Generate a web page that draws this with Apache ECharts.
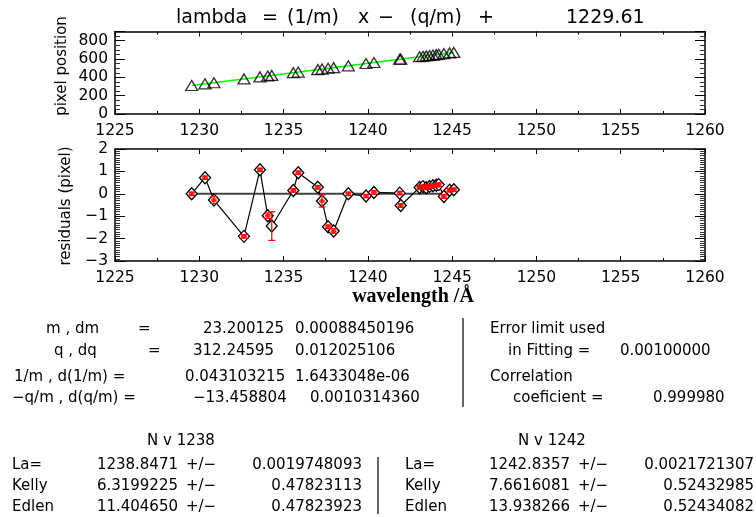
<!DOCTYPE html>
<html>
<head>
<meta charset="utf-8">
<script src="https://cdn.jsdelivr.net/npm/echarts@6/dist/echarts.min.js"></script>
<style>
  html, body { margin: 0; padding: 0; background: #fff; }
  #chart { width: 756px; height: 517px; }
</style>
</head>
<body>
<div id="chart"></div>
<script>
// Measured line positions: wavelength (Å) vs detector pixel
const wavelengths = [1229.55, 1230.34, 1230.87, 1232.65, 1233.60, 1234.06, 1234.30, 1235.58, 1235.87,
  1237.03, 1237.28, 1237.64, 1237.97, 1238.84, 1239.89, 1240.36, 1241.89, 1241.95,
  1243.07, 1243.27, 1243.46, 1243.66, 1243.86, 1244.06, 1244.20, 1244.51, 1244.85, 1245.10];
const pixelPositions = [311, 329, 341, 383, 405, 415, 421, 451, 457,
  484, 490, 499, 506, 526, 551, 562, 597, 599,
  625, 629, 634, 638, 643, 647, 651, 658, 666, 672];
// Fit residuals (pixel) and their uncertainties
const residuals = [0.00, 0.72, -0.28, -1.90, 1.07, -0.98, -1.44, 0.15, 0.94,
  0.29, -0.32, -1.47, -1.66, 0.00, -0.10, 0.06, 0.03, -0.52,
  0.28, 0.32, 0.27, 0.33, 0.36, 0.38, 0.41, -0.12, 0.16, 0.18];
const residualMarks = [0.00, 0.72, -0.28, -1.90, 1.07, -0.98, null, 0.15, 0.94,
  0.29, -0.32, -1.47, -1.66, 0.00, -0.10, 0.06, 0.03, -0.52,
  0.28, 0.32, 0.27, 0.33, 0.36, 0.38, 0.41, -0.12, 0.16, 0.18];
const residualErrors = [0.08, 0.08, 0.15, 0.08, 0.08, 0.12, 0.64, 0.08, 0.08,
  0.08, 0.27, 0.08, 0.10, 0.08, 0.08, 0.08, 0.08, 0.08,
  0.08, 0.08, 0.08, 0.08, 0.08, 0.08, 0.08, 0.08, 0.08, 0.08];
// Linear fit and zero reference
const fitLineWavelengths = [1229.55, 1245.10];
const fitLinePixels = [311, 672];
const zeroLineWavelengths = [1229.55, 1245.10];
const zeroLineValues = [0, 0];

// Axis ticks
const wavelengthTicks = [1225, 1230, 1235, 1240, 1245, 1250, 1255, 1260];
const pixelTicks = [0, 200, 400, 600, 800];
const pixelAxisMax = 900;
const residualTicks = [-3, -2, -1, 0, 1, 2];

// Text annotations
const titleParts = ['lambda', '=', '(1/m)', 'x', '\u2212', '(q/m)', '+', '1229.61'];
const fitNames = ['m , dm', 'q , dq', '1/m , d(1/m) =', '\u2212q/m , d(q/m) ='];
const fitEquals = ['=', '='];
const fitValues = ['23.200125', '312.24595', '0.043103215', '\u221213.458804'];
const fitErrors = ['0.00088450196', '0.012025106', '1.6433048e-06', '0.0010314360'];
const fitInfo = ['Error limit used', 'in Fitting =', '0.00100000', 'Correlation', 'coeficient =', '0.999980'];
const lineTitles = ['N v 1238', 'N v 1242'];
const lineRowNames = ['La=', 'Kelly', 'Edlen'];
const line1238Values = ['1238.8471', '6.3199225', '11.404650'];
const line1238Errors = ['0.0019748093', '0.47823113', '0.47823923'];
const line1242Values = ['1242.8357', '7.6616081', '13.938266'];
const line1242Errors = ['0.0021721307', '0.52432985', '0.52434082'];

const FONT = '"DejaVu Sans", sans-serif';
const INK = '#000';

function text(str, x, y, opts) {
  opts = opts || {};
  const align = opts.align || 'left';
  return {
    type: 'text', x: x, y: y, rotation: opts.rotation || 0, silent: true,
    style: {
      text: str, fill: INK,
      fontSize: opts.size || 15,
      fontFamily: opts.family || FONT,
      fontWeight: opts.weight || 'normal',
      align: align, textAlign: align,
      verticalAlign: 'middle', textVerticalAlign: 'middle'
    }
  };
}
function vline(x, y1, y2) {
  return { type: 'line', silent: true, shape: { x1: x, y1: y1, x2: x, y2: y2 },
    style: { stroke: INK, lineWidth: 1.2 } };
}

const wMin = wavelengthTicks[0];
const wMax = wavelengthTicks[wavelengthTicks.length - 1];
const wStep = wavelengthTicks[1] - wavelengthTicks[0];

function xAxis(gridIndex, position, labels) {
  return {
    type: 'value', gridIndex: gridIndex, position: position,
    min: wMin, max: wMax, interval: wStep,
    axisLine: { show: true, onZero: false, lineStyle: { color: INK, width: 1.5 } },
    axisTick: { show: true, inside: true, length: 5, lineStyle: { color: INK, width: 1 } },
    minorTick: { show: true, splitNumber: 2, length: 3, lineStyle: { color: INK, width: 1 } },
    splitLine: { show: false }, minorSplitLine: { show: false },
    axisLabel: { show: labels, margin: 9, color: INK, fontSize: 15.5, fontFamily: FONT,
      formatter: function (v) { return String(v); } }
  };
}
function yAxis(gridIndex, position, labels, min, max, step, minorSplit, showMax) {
  return {
    type: 'value', gridIndex: gridIndex, position: position,
    min: min, max: max, interval: step,
    axisLine: { show: true, onZero: false, lineStyle: { color: INK, width: 1.5 } },
    axisTick: { show: true, inside: true, length: 10, lineStyle: { color: INK, width: 1 } },
    minorTick: { show: true, splitNumber: minorSplit, length: 5, lineStyle: { color: '#333', width: 1 } },
    splitLine: { show: false }, minorSplitLine: { show: false },
    axisLabel: {
      show: labels, margin: 7, color: INK, fontSize: 15.5, fontFamily: FONT,
      showMaxLabel: showMax,
      formatter: function (v) { return String(v).replace('-', '\u2212'); }
    }
  };
}

const pts = wavelengths.map((w, i) => [w, pixelPositions[i]]);
const resPts = wavelengths.map((w, i) => [w, residuals[i]]);
const markPts = wavelengths.map((w, i) => [w, residualMarks[i]]);
const errPts = wavelengths.map((w, i) => [w, residuals[i] - residualErrors[i], residuals[i] + residualErrors[i]]);

const rowY = [329, 351, 377, 398];
const tblY = [441, 465, 486, 507];
const titleX = [176, 262, 287, 358, 378, 410, 478, 566];

const graphics = [
  text('pixel position', 62, 66, { size: 15, rotation: Math.PI / 2, align: 'center' }),
  text('residuals (pixel)', 66, 206, { size: 15, rotation: Math.PI / 2, align: 'center' }),
  text('wavelength /\u00C5', 413, 297, { size: 20, align: 'center', family: '"Liberation Serif", serif', weight: 'bold' }),

  text(fitNames[0], 46, rowY[0]), text(fitEquals[0], 138, rowY[0]),
  text(fitValues[0], 203, rowY[0]), text(fitErrors[0], 295, rowY[0]),
  text(fitNames[1], 54, rowY[1]), text(fitEquals[1], 148, rowY[1]),
  text(fitValues[1], 193, rowY[1]), text(fitErrors[1], 295, rowY[1]),
  text(fitNames[2], 14, rowY[2]),
  text(fitValues[2], 185, rowY[2]), text(fitErrors[2], 295, rowY[2]),
  text(fitNames[3], 12, rowY[3]),
  text(fitValues[3], 193, rowY[3]), text(fitErrors[3], 310, rowY[3]),
  vline(463, 318, 407),
  text(fitInfo[0], 490, rowY[0]),
  text(fitInfo[1], 508, rowY[1]), text(fitInfo[2], 620, rowY[1]),
  text(fitInfo[3], 490, rowY[2]),
  text(fitInfo[4], 513, rowY[3]), text(fitInfo[5], 653, rowY[3]),

  text(lineTitles[0], 147, tblY[0]),
  text(lineTitles[1], 518, tblY[0]),
  vline(378, 457, 514)
];
titleParts.forEach((s, i) => graphics.push(text(s, titleX[i], 18, { size: 19 })));
lineRowNames.forEach((name, i) => {
  const y = tblY[i + 1];
  graphics.push(text(name, 12, y));
  graphics.push(text(line1238Values[i], 178, y, { align: 'right' }));
  graphics.push(text('+/\u2212', 186, y));
  graphics.push(text(line1238Errors[i], 362, y, { align: 'right' }));
  graphics.push(text(name, 405, y));
  graphics.push(text(line1242Values[i], 570, y, { align: 'right' }));
  graphics.push(text('+/\u2212', 578, y));
  graphics.push(text(line1242Errors[i], 754, y, { align: 'right' }));
});

const chart = echarts.init(document.getElementById('chart'), null, { renderer: 'canvas' });
chart.setOption({
  backgroundColor: '#fff',
  animation: false,
  grid: [
    { left: 115, top: 31.5, width: 590, height: 82.5, outerBoundsMode: 'none' },
    { left: 115, top: 149, width: 590, height: 112, outerBoundsMode: 'none' }
  ],
  xAxis: [
    xAxis(0, 'bottom', true), xAxis(0, 'top', false),
    xAxis(1, 'bottom', true), xAxis(1, 'top', false)
  ],
  yAxis: [
    yAxis(0, 'left', true, pixelTicks[0], pixelAxisMax, pixelTicks[1] - pixelTicks[0], 4, false),
    yAxis(0, 'right', false, pixelTicks[0], pixelAxisMax, pixelTicks[1] - pixelTicks[0], 4, false),
    yAxis(1, 'left', true, residualTicks[0], residualTicks[residualTicks.length - 1], 1, 10, true),
    yAxis(1, 'right', false, residualTicks[0], residualTicks[residualTicks.length - 1], 1, 10, true)
  ],
  series: [
    {
      type: 'line', xAxisIndex: 0, yAxisIndex: 0, silent: true,
      data: fitLineWavelengths.map((w, i) => [w, fitLinePixels[i]]),
      symbol: 'none', lineStyle: { color: '#00ff00', width: 1.5 }, z: 2
    },
    {
      type: 'scatter', xAxisIndex: 0, yAxisIndex: 0, silent: true,
      data: pts, symbol: 'triangle', symbolSize: [12, 10],
      itemStyle: { color: 'rgba(0,0,0,0)', borderColor: INK, borderWidth: 1.3 }, z: 3
    },
    {
      type: 'line', xAxisIndex: 2, yAxisIndex: 2, silent: true,
      data: zeroLineWavelengths.map((w, i) => [w, zeroLineValues[i]]),
      symbol: 'none', lineStyle: { color: '#444', width: 2 }, z: 2
    },
    {
      type: 'line', xAxisIndex: 2, yAxisIndex: 2, silent: true,
      data: resPts, symbol: 'diamond', symbolSize: [11, 12], showAllSymbol: true,
      lineStyle: { color: INK, width: 1.2 },
      itemStyle: { color: '#fff', borderColor: INK, borderWidth: 1.3 }, z: 3
    },
    {
      type: 'scatter', xAxisIndex: 2, yAxisIndex: 2, silent: true,
      data: markPts, symbol: 'circle', symbolSize: [6, 4],
      itemStyle: { color: '#ff0000' }, z: 4
    },
    {
      type: 'custom', xAxisIndex: 2, yAxisIndex: 2, silent: true, z: 5,
      data: errPts,
      encode: { x: 0, y: [1, 2] },
      renderItem: function (params, api) {
        const x = api.value(0);
        const lo = api.coord([x, api.value(1)]);
        const hi = api.coord([x, api.value(2)]);
        const half = 3.5;
        const st = { stroke: '#ff0000', lineWidth: 1.2 };
        return {
          type: 'group', children: [
            { type: 'line', shape: { x1: lo[0], y1: lo[1], x2: hi[0], y2: hi[1] }, style: st },
            { type: 'line', shape: { x1: lo[0] - half, y1: lo[1], x2: lo[0] + half, y2: lo[1] }, style: st },
            { type: 'line', shape: { x1: hi[0] - half, y1: hi[1], x2: hi[0] + half, y2: hi[1] }, style: st }
          ]
        };
      }
    }
  ],
  graphic: { elements: graphics }
});
</script>
</body>
</html>
